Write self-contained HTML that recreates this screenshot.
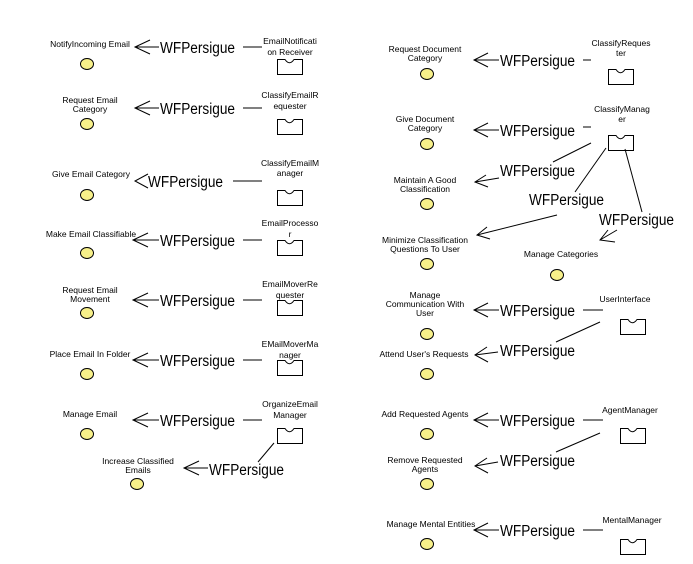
<!DOCTYPE html>
<html><head><meta charset="utf-8"><style>
html,body{margin:0;padding:0;background:#fff;}
svg{display:block;}
.s{font-family:"Liberation Sans",sans-serif;font-size:8.5px;text-anchor:middle;fill:#000;}
.w{font-family:"Liberation Sans",sans-serif;font-size:15.5px;fill:#000;}
line,polyline{stroke:#000;stroke-width:1;fill:none;}
ellipse{fill:#f7f08a;stroke:#000;stroke-width:1;}
.b{fill:#fff;stroke:#000;stroke-width:1;}
</style></head><body>
<svg width="693" height="564" viewBox="0 0 693 564">
<defs>
<path id="bx" class="b" d="M0.5,0.5 H8 Q12.5,7 17,0.5 H25.5 V15.5 H0.5 Z"/>
</defs>
<!-- LEFT COLUMN -->
<g>
<text class="s" x="90" y="47">NotifyIncoming Email</text>
<ellipse cx="87" cy="64" rx="6.5" ry="5.5"/>
<polyline points="150,40 135,47 150,54"/><line x1="135" y1="47" x2="159" y2="47"/>
<text class="w" x="160" y="53" textLength="75" lengthAdjust="spacingAndGlyphs">WFPersigue</text><line x1="243" y1="47" x2="262" y2="47"/>
<text class="s" x="290" y="44">EmailNotificati</text><text class="s" x="290" y="55">on Receiver</text>
<use href="#bx" x="277" y="59"/>

<text class="s" x="90" y="103">Request Email</text><text class="s" x="90" y="112">Category</text>
<ellipse cx="87" cy="124" rx="6.5" ry="5.5"/>
<polyline points="150,101 135,108 150,115"/><line x1="135" y1="108" x2="159" y2="108"/>
<text class="w" x="160" y="114" textLength="75" lengthAdjust="spacingAndGlyphs">WFPersigue</text><line x1="243" y1="108" x2="262" y2="108"/>
<text class="s" x="290" y="98">ClassifyEmailR</text><text class="s" x="290" y="109">equester</text>
<use href="#bx" x="277" y="119"/>

<text class="s" x="91" y="177">Give Email Category</text>
<ellipse cx="87" cy="195" rx="6.5" ry="5.5"/>
<polyline points="148,174 135,181 148,188"/>
<text class="w" x="148" y="187" textLength="75" lengthAdjust="spacingAndGlyphs">WFPersigue</text><line x1="233" y1="181" x2="262" y2="181"/>
<text class="s" x="290" y="166">ClassifyEmailM</text><text class="s" x="290" y="176">anager</text>
<use href="#bx" x="277" y="190"/>

<text class="s" x="91" y="237">Make Email Classifiable</text>
<ellipse cx="87" cy="253" rx="6.5" ry="5.5"/>
<polyline points="148,233 133,240 148,247"/><line x1="133" y1="240" x2="159" y2="240"/>
<text class="w" x="160" y="246" textLength="75" lengthAdjust="spacingAndGlyphs">WFPersigue</text><line x1="243" y1="240" x2="262" y2="240"/>
<text class="s" x="290" y="226">EmailProcesso</text><text class="s" x="290" y="237">r</text>
<use href="#bx" x="277" y="240"/>

<text class="s" x="90" y="293">Request Email</text><text class="s" x="90" y="302">Movement</text>
<ellipse cx="87" cy="313" rx="6.5" ry="5.5"/>
<polyline points="148,293 133,300 148,307"/><line x1="133" y1="300" x2="159" y2="300"/>
<text class="w" x="160" y="306" textLength="75" lengthAdjust="spacingAndGlyphs">WFPersigue</text><line x1="243" y1="300" x2="262" y2="300"/>
<text class="s" x="290" y="287">EmailMoverRe</text><text class="s" x="290" y="298">quester</text>
<use href="#bx" x="277" y="300"/>

<text class="s" x="90" y="357">Place Email In Folder</text>
<ellipse cx="87" cy="374" rx="6.5" ry="5.5"/>
<polyline points="148,353 133,360 148,367"/><line x1="133" y1="360" x2="159" y2="360"/>
<text class="w" x="160" y="366" textLength="75" lengthAdjust="spacingAndGlyphs">WFPersigue</text><line x1="243" y1="360" x2="262" y2="360"/>
<text class="s" x="290" y="347">EMailMoverMa</text><text class="s" x="290" y="358">nager</text>
<use href="#bx" x="277" y="360"/>

<text class="s" x="90" y="417">Manage Email</text>
<ellipse cx="87" cy="434" rx="6.5" ry="5.5"/>
<polyline points="148,413 133,420 148,427"/><line x1="133" y1="420" x2="159" y2="420"/>
<text class="w" x="160" y="426" textLength="75" lengthAdjust="spacingAndGlyphs">WFPersigue</text><line x1="243" y1="420" x2="262" y2="420"/>
<text class="s" x="290" y="407">OrganizeEmail</text><text class="s" x="290" y="418">Manager</text>
<use href="#bx" x="277" y="428"/>

<text class="s" x="138" y="464">Increase Classified</text><text class="s" x="138" y="473">Emails</text>
<ellipse cx="137" cy="484" rx="6.5" ry="5.5"/>
<polyline points="199,461 184,468 199,475"/><line x1="184" y1="468" x2="208" y2="468"/>
<text class="w" x="209" y="475" textLength="75" lengthAdjust="spacingAndGlyphs">WFPersigue</text><line x1="274" y1="443" x2="258" y2="462"/>
</g>
<!-- RIGHT COLUMN -->
<g>
<text class="s" x="425" y="52">Request Document</text><text class="s" x="425" y="61">Category</text>
<ellipse cx="427" cy="74" rx="6.5" ry="5.5"/>
<polyline points="488,53 474,60 488,67"/><line x1="474" y1="60" x2="499" y2="60"/>
<text class="w" x="500" y="66" textLength="75" lengthAdjust="spacingAndGlyphs">WFPersigue</text><line x1="583" y1="60" x2="591" y2="60"/>
<text class="s" x="621" y="46">ClassifyReques</text><text class="s" x="621" y="56">ter</text>
<use href="#bx" x="608" y="69"/>

<text class="s" x="425" y="122">Give Document</text><text class="s" x="425" y="131">Category</text>
<ellipse cx="427" cy="144" rx="6.5" ry="5.5"/>
<polyline points="488,123 474,130 488,137"/><line x1="474" y1="130" x2="499" y2="130"/>
<text class="w" x="500" y="136" textLength="75" lengthAdjust="spacingAndGlyphs">WFPersigue</text><line x1="583" y1="127" x2="591" y2="127"/>
<text class="s" x="622" y="112">ClassifyManag</text><text class="s" x="622" y="122">er</text>
<use href="#bx" x="608" y="135"/>

<text class="s" x="425" y="183">Maintain A Good</text><text class="s" x="425" y="192">Classification</text>
<ellipse cx="427" cy="204" rx="6.5" ry="5.5"/>
<polyline points="486,175 475,182 488,187"/><line x1="475" y1="182" x2="499" y2="178"/>
<text class="w" x="500" y="176" textLength="75" lengthAdjust="spacingAndGlyphs">WFPersigue</text><line x1="553" y1="162" x2="591" y2="143"/>

<text class="s" x="425" y="243">Minimize Classification</text><text class="s" x="425" y="252">Questions To User</text>
<ellipse cx="427" cy="264" rx="6.5" ry="5.5"/>
<polyline points="487,227 477,235 490,239"/><line x1="477" y1="235" x2="557" y2="215"/>
<text class="w" x="529" y="205" textLength="75" lengthAdjust="spacingAndGlyphs">WFPersigue</text><line x1="575" y1="192" x2="606" y2="148"/>

<text class="s" x="561" y="257">Manage Categories</text>
<ellipse cx="557" cy="275" rx="6.5" ry="5.5"/>
<polyline points="608,230 600,240 615,242"/><line x1="600" y1="240" x2="617" y2="230"/>
<text class="w" x="599" y="225" textLength="75" lengthAdjust="spacingAndGlyphs">WFPersigue</text><line x1="625" y1="149" x2="642" y2="212"/>

<text class="s" x="425" y="298">Manage</text><text class="s" x="425" y="307">Communication With</text><text class="s" x="425" y="316">User</text>
<ellipse cx="427" cy="334" rx="6.5" ry="5.5"/>
<polyline points="488,303 474,310 488,317"/><line x1="474" y1="310" x2="499" y2="310"/>
<text class="w" x="500" y="316" textLength="75" lengthAdjust="spacingAndGlyphs">WFPersigue</text><line x1="583" y1="310" x2="603" y2="310"/>
<text class="s" x="625" y="302">UserInterface</text>
<use href="#bx" x="620" y="319"/>

<text class="s" x="424" y="357">Attend User's Requests</text>
<ellipse cx="427" cy="374" rx="6.5" ry="5.5"/>
<polyline points="487,347 475,355 488,362"/><line x1="475" y1="355" x2="498" y2="352"/>
<text class="w" x="500" y="356" textLength="75" lengthAdjust="spacingAndGlyphs">WFPersigue</text><line x1="556" y1="342" x2="600" y2="322"/>

<text class="s" x="425" y="417">Add Requested Agents</text>
<ellipse cx="427" cy="434" rx="6.5" ry="5.5"/>
<polyline points="488,413 474,420 488,427"/><line x1="474" y1="420" x2="499" y2="420"/>
<text class="w" x="500" y="426" textLength="75" lengthAdjust="spacingAndGlyphs">WFPersigue</text><line x1="583" y1="420" x2="603" y2="420"/>
<text class="s" x="630" y="413">AgentManager</text>
<use href="#bx" x="620" y="428"/>

<text class="s" x="425" y="463">Remove Requested</text><text class="s" x="425" y="472">Agents</text>
<ellipse cx="427" cy="484" rx="6.5" ry="5.5"/>
<polyline points="487,458 475,466 488,473"/><line x1="475" y1="466" x2="498" y2="462"/>
<text class="w" x="500" y="466" textLength="75" lengthAdjust="spacingAndGlyphs">WFPersigue</text><line x1="556" y1="452" x2="600" y2="433"/>

<text class="s" x="431" y="527">Manage Mental Entities</text>
<ellipse cx="427" cy="544" rx="6.5" ry="5.5"/>
<polyline points="488,523 474,530 488,537"/><line x1="474" y1="530" x2="499" y2="530"/>
<text class="w" x="500" y="536" textLength="75" lengthAdjust="spacingAndGlyphs">WFPersigue</text><line x1="583" y1="530" x2="603" y2="530"/>
<text class="s" x="632" y="523">MentalManager</text>
<use href="#bx" x="620" y="539"/>
</g>
</svg>
</body></html>
